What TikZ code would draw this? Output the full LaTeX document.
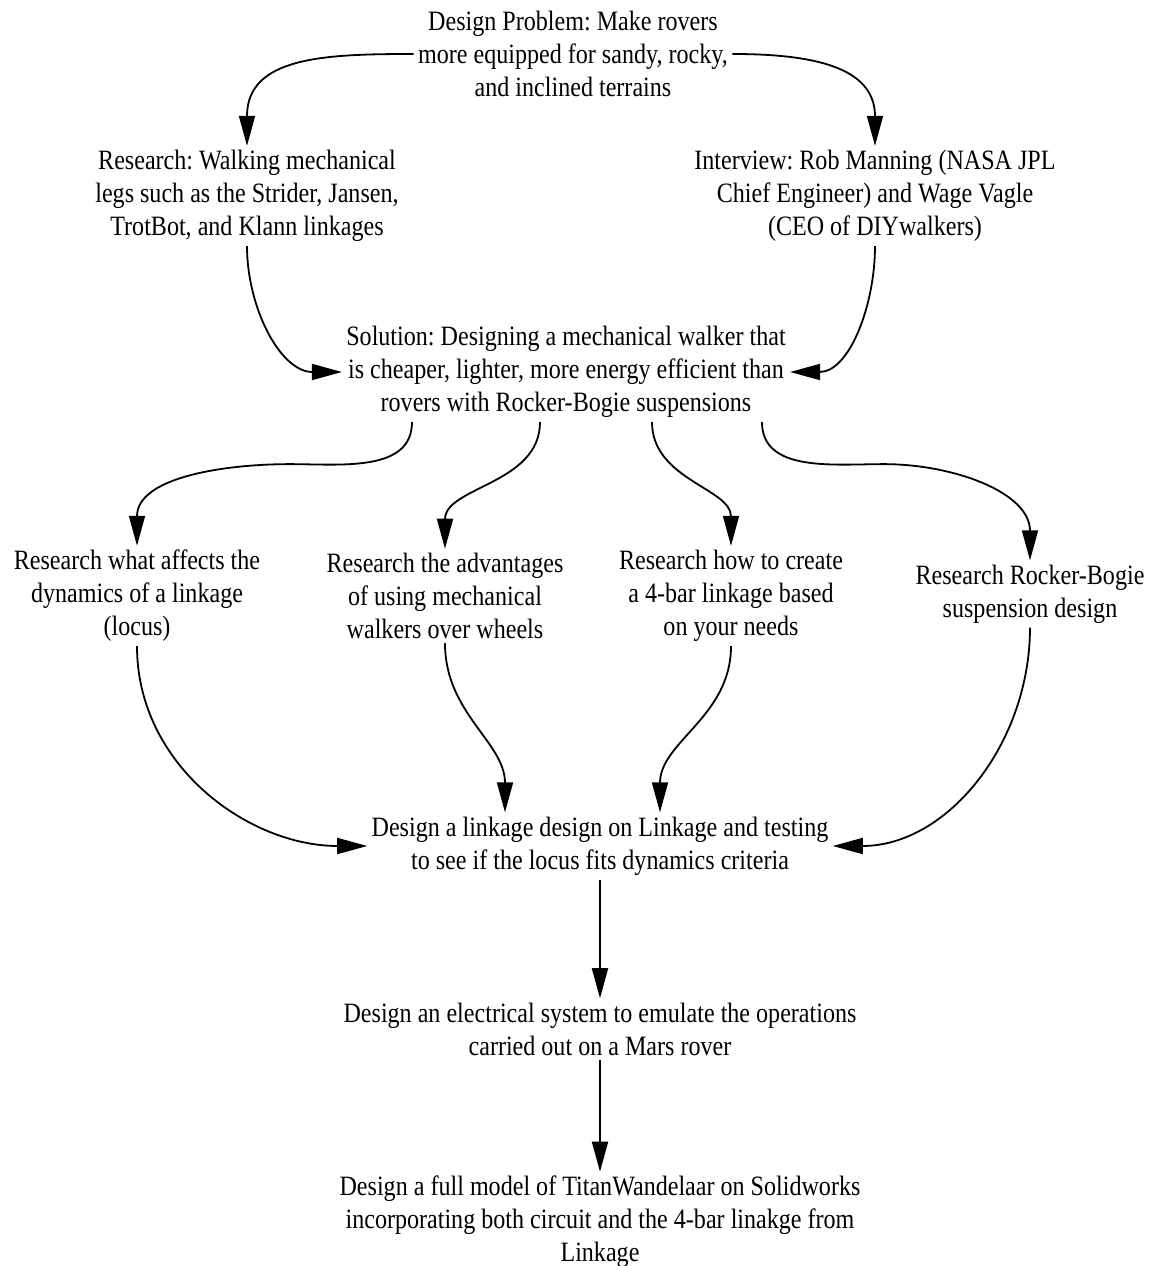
\documentclass[tikz,border=0pt]{standalone}
\usepackage{fontspec}
\setmainfont[FakeStretch=0.86]{Liberation Serif}
\usetikzlibrary{arrows.meta,calc}
\frenchspacing
\begin{document}
\begin{tikzpicture}[x=0.5pt,y=0.5pt,
  lbl/.style={align=center,font=\fontsize{14}{16.5}\selectfont,inner sep=2pt},
  arr/.style={line width=0.9pt,-{Triangle[length=15pt,width=8pt]}}]
\useasboundingbox (0,0) rectangle (1153,1266);
\node[lbl] (top) at (573,1212) {Design Problem: Make rovers\\more equipped for sandy, rocky,\\and inclined terrains};
\node[lbl] (research) at (247,1070) {Research: Walking mechanical\\legs such as the Strider, Jansen,\\TrotBot, and Klann linkages};
\node[lbl] (interview) at (875,1070) {Interview: Rob Manning (NASA JPL\\Chief Engineer) and Wage Vagle\\(CEO of DIYwalkers)};
\node[lbl] (solution) at (566,894) {Solution: Designing a mechanical walker that\\is cheaper, lighter, more energy efficient than\\rovers with Rocker-Bogie suspensions};
\node[lbl] (r1) at (137,670) {Research what affects the\\dynamics of a linkage\\(locus)};
\node[lbl] (r2) at (445,670) {Research the advantages\\of using mechanical\\walkers over wheels};
\node[lbl] (r3) at (731,670) {Research how to create\\a 4-bar linkage based\\on your needs};
\node[lbl] (r4) at (1030,672) {Research Rocker-Bogie\\suspension design};
\node[lbl] (linkage) at (600,420) {Design a linkage design on Linkage and testing\\to see if the locus fits dynamics criteria};
\node[lbl] (elec) at (600,237) {Design an electrical system to emulate the operations\\carried out on a Mars rover};
\node[lbl] (final) at (600,44) {Design a full model of TitanWandelaar on Solidworks\\incorporating both circuit and the 4-bar linakge from\\Linkage};

\draw[arr] (top.west) to[out=180,in=90,looseness=1.2] (research.north);
\draw[arr] (top.east) to[out=0,in=90,looseness=1.2] (interview.north);
\draw[arr] (research.south) to[out=-90,in=180] (solution.west);
\draw[arr] (interview.south) to[out=-90,in=0] (solution.east);
\draw[arr] ($(solution.south)+(-154,0)$) to[out=-90,in=0] ++(-122,-42) to[out=180,in=90] (r1.north);
\draw[arr] ($(solution.south)+(-26,0)$) to[out=-90,in=90] (r2.north);
\draw[arr] ($(solution.south)+(86,0)$) to[out=-90,in=90] (r3.north);
\draw[arr] ($(solution.south)+(196,0)$) to[out=-90,in=180] ++(122,-42) to[out=0,in=90] (r4.north);
\draw[arr] (r1.south) to[out=-90,in=180] (linkage.west);
\draw[arr] (r2.south) to[out=-90,in=90] ($(linkage.north)+(-95,0)$);
\draw[arr] (r3.south) to[out=-90,in=90] ($(linkage.north)+(60,0)$);
\draw[arr] (r4.south) to[out=-90,in=0] (linkage.east);
\draw[arr] (linkage.south) -- (elec.north);
\draw[arr] (elec.south) -- (final.north);
\end{tikzpicture}
\end{document}
